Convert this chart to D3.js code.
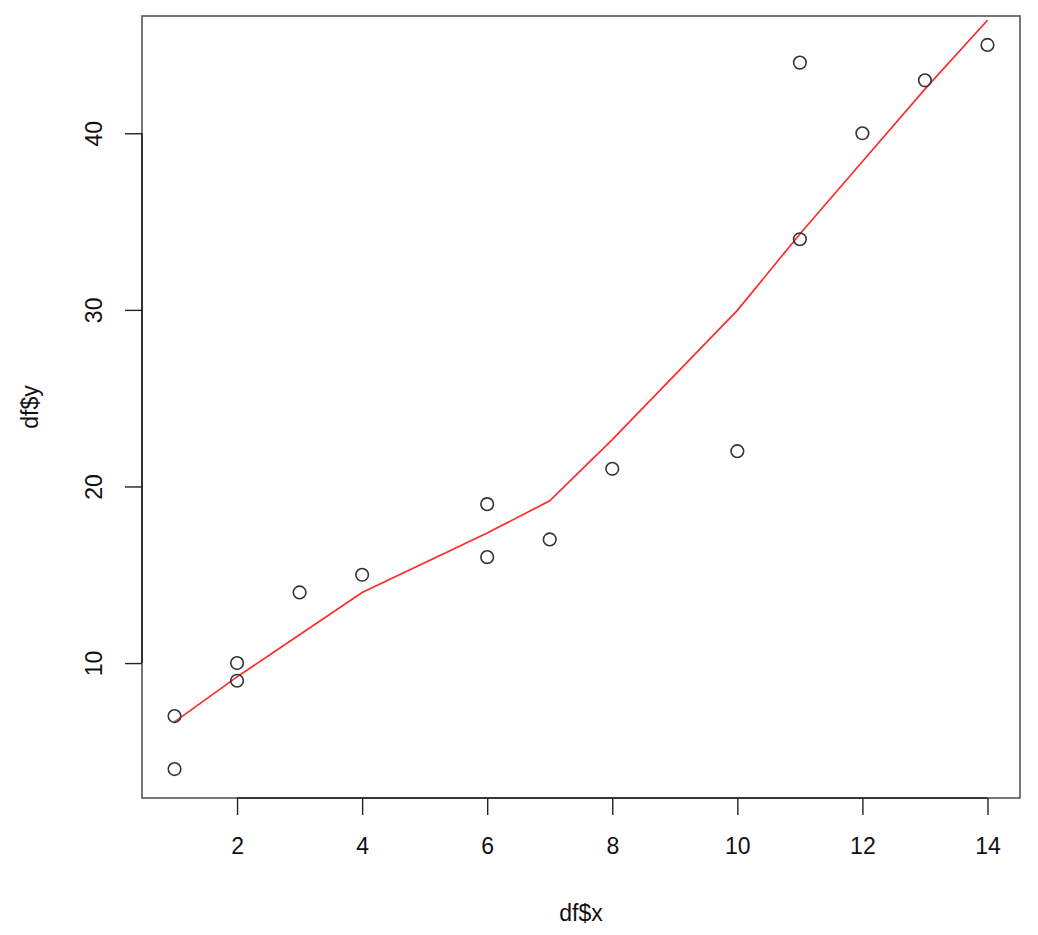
<!DOCTYPE html>
<html><head><meta charset="utf-8">
<script src="https://cdn.jsdelivr.net/npm/d3@7"></script>
<style>body{margin:0;background:#fff}svg{display:block}</style>
</head><body>
<svg id="c" width="1038" height="935"></svg>
<script>
const xs = [1,1,2,2,3,4,6,6,7,8,10,11,11,12,13,14];
const ys = [4,7,9,10,14,15,16,19,17,21,22,34,44,40,43,45];
const fitX = [1,2,3,4,6,7,8,10,11,12,13,14];
const fitY = [6.67,9.22,11.6,14.0,17.36,19.19,22.65,29.97,34.3,38.4,42.5,46.4];
const xTicks = [2,4,6,8,10,12,14];
const yTicks = [10,20,30,40];
const xLabel = "df$x", yLabel = "df$y";

const svg = d3.select("#c");
const L = 142, R = 1020, T = 16, B = 798;
const xr = d3.extent(xs), yr = d3.extent(ys);
const xp = (xr[1]-xr[0])*0.04, yp = (yr[1]-yr[0])*0.04;
const x = d3.scaleLinear().domain([xr[0]-xp, xr[1]+xp]).range([L, R]);
const y = d3.scaleLinear().domain([yr[0]-yp, yr[1]+yp]).range([B, T]);
const font = "Liberation Sans, Arial, Helvetica, sans-serif";
const fs = 23;

const g = svg.append("g");
g.append("defs").append("clipPath").attr("id","clip").append("rect")
  .attr("x",L).attr("y",T).attr("width",R-L).attr("height",B-T);

// red fit line
g.append("path").datum(fitX.map((d,i)=>[d,fitY[i]]))
  .attr("clip-path","url(#clip)")
  .attr("d", d3.line().x(d=>x(d[0])).y(d=>y(d[1])))
  .attr("fill","none").attr("stroke","#ff2a2a").attr("stroke-width",1.7);

// points
g.selectAll("circle.pt").data(xs.map((d,i)=>[d,ys[i]])).enter().append("circle")
  .attr("cx",d=>x(d[0])).attr("cy",d=>y(d[1])).attr("r",6.3)
  .attr("fill","none").attr("stroke","#333").attr("stroke-width",1.6);

// box
g.append("rect").attr("x",L).attr("y",T).attr("width",R-L).attr("height",B-T)
  .attr("fill","none").attr("stroke","#555").attr("stroke-width",1.6);

// x axis
const xa = g.append("g").attr("transform",`translate(0,${B})`)
  .call(d3.axisBottom(x).tickValues(xTicks).tickSize(17).tickPadding(23).tickFormat(d3.format("d")));
xa.select(".domain").remove();
xa.append("line").attr("x1",x(xTicks[0])).attr("x2",x(xTicks[xTicks.length-1]))
  .attr("stroke","#222").attr("stroke-width",1.6);
xa.selectAll(".tick line").attr("stroke","#222").attr("stroke-width",1.4);
xa.selectAll("text").attr("font-family",font).attr("font-size",fs).attr("fill","#111");

// y axis
const ya = g.append("g").attr("transform",`translate(${L},0)`)
  .call(d3.axisLeft(y).tickValues(yTicks).tickSize(17).tickFormat(d3.format("d")));
ya.select(".domain").remove();
ya.append("line").attr("y1",y(yTicks[0])).attr("y2",y(yTicks[yTicks.length-1]))
  .attr("stroke","#222").attr("stroke-width",1.6);
ya.selectAll(".tick line").attr("stroke","#222").attr("stroke-width",1.4);
ya.selectAll("text").attr("font-family",font).attr("font-size",fs).attr("fill","#111")
  .attr("x",null).attr("dy",null)
  .attr("text-anchor","middle")
  .attr("transform",`translate(${102-L},0) rotate(-90)`);

// axis titles
g.append("text").attr("x",(L+R)/2).attr("y",921).attr("text-anchor","middle")
  .attr("font-family",font).attr("font-size",fs).attr("fill","#111").text(xLabel);
g.append("text").attr("transform",`translate(38,${(T+B)/2}) rotate(-90)`)
  .attr("text-anchor","middle").attr("font-family",font).attr("font-size",fs).attr("fill","#111").text(yLabel);
</script>
</body></html>
